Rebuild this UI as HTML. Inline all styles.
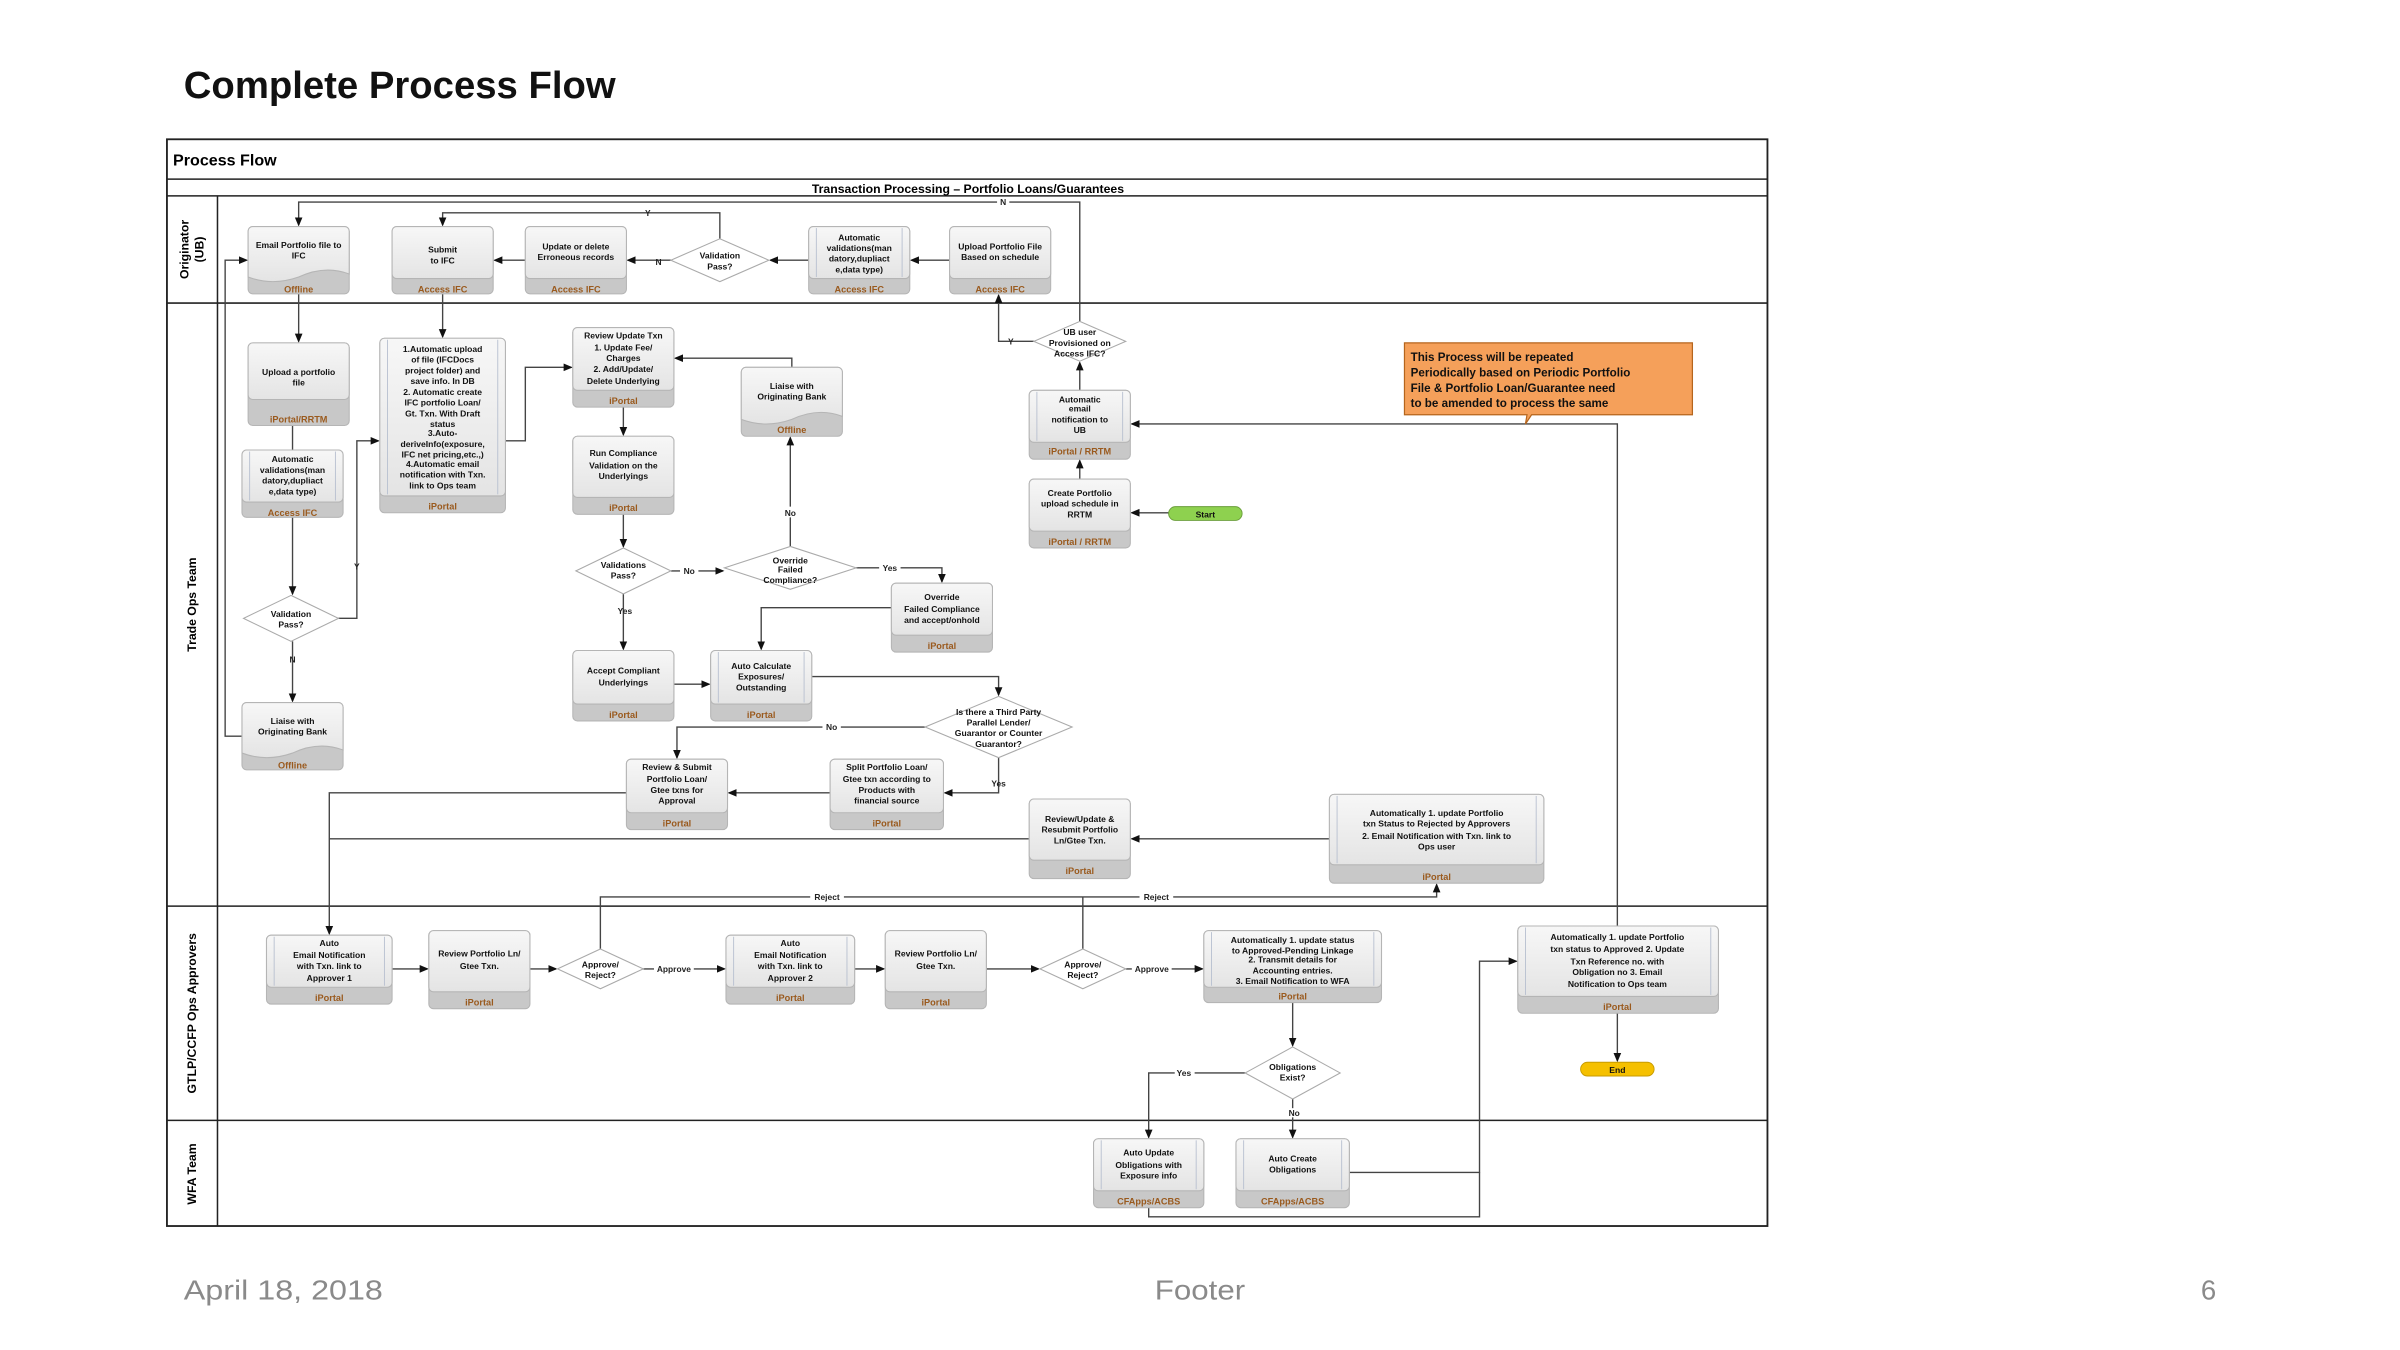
<!DOCTYPE html>
<html><head><meta charset="utf-8"><style>
html,body{margin:0;padding:0;background:#fff;width:2400px;height:1350px;overflow:hidden}
svg{display:block}
text{font-family:"Liberation Sans Narrow","Liberation Sans",sans-serif}
.t{font-size:5.6px;font-weight:bold;fill:#111;text-anchor:middle}
.b{font-size:6px;font-weight:bold;fill:#9a5a1e;text-anchor:middle}
.l{font-size:5.5px;font-weight:bold;fill:#222;text-anchor:middle}
.c{fill:none;stroke:#444;stroke-width:0.9}
.d{fill:#fff;stroke:#aaa;stroke-width:0.7}
</style></head><body>
<svg width="2400" height="1350" viewBox="0 0 1567 882" preserveAspectRatio="none" xmlns="http://www.w3.org/2000/svg">
<defs>
<marker id="a" markerWidth="6" markerHeight="6" refX="5" refY="3" orient="auto" markerUnits="userSpaceOnUse"><path d="M0,0.5 L6,3 L0,5.5z" fill="#111"/></marker>
<linearGradient id="g" x1="0" y1="0" x2="0" y2="1"><stop offset="0" stop-color="#f7f7f7"/><stop offset="1" stop-color="#e4e4e4"/></linearGradient>
</defs>
<text x="120" y="64" textLength="282" lengthAdjust="spacingAndGlyphs" style="font-family:'Liberation Sans',sans-serif;font-size:25px;font-weight:bold;fill:#111">Complete Process Flow</text>

<!-- frame -->
<rect x="109" y="91" width="1045" height="710" fill="#fff" stroke="#222" stroke-width="1.2"/>
<line x1="109" y1="117" x2="1154" y2="117" stroke="#222"/>
<line x1="109" y1="128" x2="1154" y2="128" stroke="#222"/>
<line x1="109" y1="198" x2="1154" y2="198" stroke="#222"/>
<line x1="109" y1="592" x2="1154" y2="592" stroke="#222"/>
<line x1="109" y1="732" x2="1154" y2="732" stroke="#222"/>
<line x1="142" y1="128" x2="142" y2="801" stroke="#222"/>
<text x="113" y="108" style="font-size:10.5px;font-weight:bold;font-family:'Liberation Sans',sans-serif">Process Flow</text>
<text x="632" y="126" style="font-size:8px;font-weight:bold;text-anchor:middle;font-family:'Liberation Sans',sans-serif">Transaction Processing – Portfolio Loans/Guarantees</text>
<g style="font-family:'Liberation Sans',sans-serif;font-size:8px;font-weight:bold;text-anchor:middle">
<text transform="translate(123,163) rotate(-90)">Originator</text>
<text transform="translate(133,163) rotate(-90)">(UB)</text>
<text transform="translate(128,395) rotate(-90)">Trade Ops Team</text>
<text transform="translate(128,662) rotate(-90)">GTLP/CCFP Ops Approvers</text>
<text transform="translate(128,767) rotate(-90)">WFA Team</text>
</g>

<!-- connectors -->
<g class="c">
<polyline points="705,210 705,132 195,132 195,147" marker-end="url(#a)"/>
<polyline points="470,156 470,139 289,139 289,147" marker-end="url(#a)"/>
<polyline points="438,170 410,170" marker-end="url(#a)"/>
<polyline points="343,170 323,170" marker-end="url(#a)"/>
<polyline points="528,170 503,170" marker-end="url(#a)"/>
<polyline points="620,170 595,170" marker-end="url(#a)"/>
<polyline points="675,223 652,223 652,193" marker-end="url(#a)"/>
<polyline points="705,255 705,237" marker-end="url(#a)"/>
<polyline points="705,313 705,301" marker-end="url(#a)"/>
<polyline points="763,335 739,335" marker-end="url(#a)"/>
<polyline points="1056,605 1056,277 739,277" marker-end="url(#a)"/>
<polyline points="195,192 195,223" marker-end="url(#a)"/>
<polyline points="289,192 289,220" marker-end="url(#a)"/>
<polyline points="158,481 147,481 147,170 161,170" marker-end="url(#a)"/>
<polyline points="191,278 191,294"/>
<polyline points="191,338 191,388" marker-end="url(#a)"/>
<polyline points="191,419 191,458" marker-end="url(#a)"/>
<polyline points="221,404 233,404 233,288 247,288" marker-end="url(#a)"/>
<polyline points="330,288 343,288 343,240 373,240" marker-end="url(#a)"/>
<polyline points="517,240 517,234 441,234" marker-end="url(#a)"/>
<polyline points="407,266 407,284" marker-end="url(#a)"/>
<polyline points="407,336 407,357" marker-end="url(#a)"/>
<polyline points="438,373 472,373" marker-end="url(#a)"/>
<polyline points="516,357 516,286" marker-end="url(#a)"/>
<polyline points="559,371 615,371 615,380" marker-end="url(#a)"/>
<polyline points="407,388 407,424" marker-end="url(#a)"/>
<polyline points="582,397 497,397 497,424" marker-end="url(#a)"/>
<polyline points="440,447 463,447" marker-end="url(#a)"/>
<polyline points="530,442 652,442 652,454" marker-end="url(#a)"/>
<polyline points="604,475 442,475 442,495" marker-end="url(#a)"/>
<polyline points="652,495 652,518 617,518" marker-end="url(#a)"/>
<polyline points="542,518 476,518" marker-end="url(#a)"/>
<polyline points="409,518 215,518 215,610" marker-end="url(#a)"/>
<polyline points="672,548 215,548"/>
<polyline points="868,548 739,548" marker-end="url(#a)"/>
<polyline points="392,620 392,586 938,586 938,578" marker-end="url(#a)"/>
<polyline points="707,620 707,586"/>
<polyline points="256,633 279,633" marker-end="url(#a)"/>
<polyline points="346,633 363,633" marker-end="url(#a)"/>
<polyline points="420,633 473,633" marker-end="url(#a)"/>
<polyline points="558,633 577,633" marker-end="url(#a)"/>
<polyline points="644,633 678,633" marker-end="url(#a)"/>
<polyline points="735,633 785,633" marker-end="url(#a)"/>
<polyline points="844,655 844,683" marker-end="url(#a)"/>
<polyline points="813,701 750,701 750,743" marker-end="url(#a)"/>
<polyline points="844,718 844,743" marker-end="url(#a)"/>
<polyline points="881,766 966,766 966,628 990,628" marker-end="url(#a)"/>
<polyline points="750,789 750,795 966,795 966,766"/>
<polyline points="1056,662 1056,693" marker-end="url(#a)"/>
</g>
<!-- connector labels -->
<g class="l">
<rect x="651" y="129" width="8" height="6" fill="#fff"/><text x="655" y="134">N</text>
<text x="423" y="141">Y</text>
<text x="430" y="173">N</text>
<text x="660" y="225">Y</text>
<text x="191" y="433">N</text>
<text x="233" y="372">Y</text>
<rect x="444" y="370" width="12" height="6" fill="#fff"/><text x="450" y="375">No</text>
<rect x="510" y="331" width="12" height="7" fill="#fff"/><text x="516" y="337">No</text>
<rect x="574" y="368" width="14" height="6" fill="#fff"/><text x="581" y="373">Yes</text>
<text x="408" y="401">Yes</text>
<rect x="537" y="472" width="12" height="6" fill="#fff"/><text x="543" y="477">No</text>
<text x="652" y="514">Yes</text>
<rect x="529" y="583" width="22" height="6" fill="#fff"/><text x="540" y="588">Reject</text>
<rect x="744" y="583" width="22" height="6" fill="#fff"/><text x="755" y="588">Reject</text>
<rect x="427" y="630" width="26" height="6" fill="#fff"/><text x="440" y="635">Approve</text>
<rect x="739" y="630" width="26" height="6" fill="#fff"/><text x="752" y="635">Approve</text>
<rect x="767" y="698" width="13" height="6" fill="#fff"/><text x="773" y="703">Yes</text>
<rect x="839" y="724" width="11" height="6" fill="#fff"/><text x="845" y="729">No</text>
</g>

<g stroke="#b5b5b5" stroke-width="0.7">
<rect x="162" y="148" width="66" height="44" rx="3" fill="#c8c8c8"/>
<path d="M162,151 a3,3 0 0 1 3,-3 h60 a3,3 0 0 1 3,3 v28 q-16,-6 -33,2 q-17,6 -33,0 z" fill="url(#g)"/>
<rect x="256" y="148" width="66" height="44" rx="3" fill="#c8c8c8"/><rect x="256" y="148" width="66" height="34" rx="3" fill="url(#g)"/>
<rect x="343" y="148" width="66" height="44" rx="3" fill="#c8c8c8"/><rect x="343" y="148" width="66" height="34" rx="3" fill="url(#g)"/>
<rect x="528" y="148" width="66" height="44" rx="3" fill="#c8c8c8"/><rect x="528" y="148" width="66" height="34" rx="3" fill="url(#g)"/>
<rect x="620" y="148" width="66" height="44" rx="3" fill="#c8c8c8"/><rect x="620" y="148" width="66" height="34" rx="3" fill="url(#g)"/>
<rect x="162" y="224" width="66" height="54" rx="3" fill="#c8c8c8"/><rect x="162" y="224" width="66" height="37" rx="3" fill="url(#g)"/>
<rect x="158" y="294" width="66" height="44" rx="3" fill="#c8c8c8"/><rect x="158" y="294" width="66" height="34" rx="3" fill="url(#g)"/>
<rect x="158" y="459" width="66" height="44" rx="3" fill="#c8c8c8"/>
<path d="M158,462 a3,3 0 0 1 3,-3 h60 a3,3 0 0 1 3,3 v28 q-16,-6 -33,2 q-17,6 -33,0 z" fill="url(#g)"/>
<rect x="248" y="221" width="82" height="114" rx="3" fill="#c8c8c8"/><rect x="248" y="221" width="82" height="103" rx="3" fill="url(#g)"/>
<rect x="374" y="214" width="66" height="52" rx="3" fill="#c8c8c8"/><rect x="374" y="214" width="66" height="41" rx="3" fill="url(#g)"/>
<rect x="484" y="240" width="66" height="45" rx="3" fill="#c8c8c8"/>
<path d="M484,243 a3,3 0 0 1 3,-3 h60 a3,3 0 0 1 3,3 v29 q-16,-6 -33,2 q-17,6 -33,0 z" fill="url(#g)"/>
<rect x="374" y="285" width="66" height="51" rx="3" fill="#c8c8c8"/><rect x="374" y="285" width="66" height="40" rx="3" fill="url(#g)"/>
<rect x="582" y="381" width="66" height="45" rx="3" fill="#c8c8c8"/><rect x="582" y="381" width="66" height="34" rx="3" fill="url(#g)"/>
<rect x="374" y="425" width="66" height="46" rx="3" fill="#c8c8c8"/><rect x="374" y="425" width="66" height="35" rx="3" fill="url(#g)"/>
<rect x="464" y="425" width="66" height="46" rx="3" fill="#c8c8c8"/><rect x="464" y="425" width="66" height="35" rx="3" fill="url(#g)"/>
<rect x="409" y="496" width="66" height="46" rx="3" fill="#c8c8c8"/><rect x="409" y="496" width="66" height="35" rx="3" fill="url(#g)"/>
<rect x="542" y="496" width="74" height="46" rx="3" fill="#c8c8c8"/><rect x="542" y="496" width="74" height="35" rx="3" fill="url(#g)"/>
<rect x="672" y="522" width="66" height="52" rx="3" fill="#c8c8c8"/><rect x="672" y="522" width="66" height="40" rx="3" fill="url(#g)"/>
<rect x="868" y="519" width="140" height="58" rx="3" fill="#c8c8c8"/><rect x="868" y="519" width="140" height="46" rx="3" fill="url(#g)"/>
<rect x="672" y="255" width="66" height="45" rx="3" fill="#c8c8c8"/><rect x="672" y="255" width="66" height="34" rx="3" fill="url(#g)"/>
<rect x="672" y="313" width="66" height="45" rx="3" fill="#c8c8c8"/><rect x="672" y="313" width="66" height="34" rx="3" fill="url(#g)"/>
<rect x="174" y="611" width="82" height="45" rx="3" fill="#c8c8c8"/><rect x="174" y="611" width="82" height="34" rx="3" fill="url(#g)"/>
<rect x="280" y="608" width="66" height="51" rx="3" fill="#c8c8c8"/><rect x="280" y="608" width="66" height="40" rx="3" fill="url(#g)"/>
<rect x="474" y="611" width="84" height="45" rx="3" fill="#c8c8c8"/><rect x="474" y="611" width="84" height="34" rx="3" fill="url(#g)"/>
<rect x="578" y="608" width="66" height="51" rx="3" fill="#c8c8c8"/><rect x="578" y="608" width="66" height="40" rx="3" fill="url(#g)"/>
<rect x="786" y="608" width="116" height="47" rx="3" fill="#c8c8c8"/><rect x="786" y="608" width="116" height="37" rx="3" fill="url(#g)"/>
<rect x="991" y="605" width="131" height="57" rx="3" fill="#c8c8c8"/><rect x="991" y="605" width="131" height="46" rx="3" fill="url(#g)"/>
<rect x="714" y="744" width="72" height="45" rx="3" fill="#c8c8c8"/><rect x="714" y="744" width="72" height="34" rx="3" fill="url(#g)"/>
<rect x="807" y="744" width="74" height="45" rx="3" fill="#c8c8c8"/><rect x="807" y="744" width="74" height="34" rx="3" fill="url(#g)"/>
</g>
<g stroke="#b8c0d0" stroke-width="0.6">
<line x1="533" y1="149" x2="533" y2="181"/><line x1="589" y1="149" x2="589" y2="181"/>
<line x1="163" y1="295" x2="163" y2="327"/><line x1="219" y1="295" x2="219" y2="327"/>
<line x1="253" y1="222" x2="253" y2="323"/><line x1="325" y1="222" x2="325" y2="323"/>
<line x1="469" y1="426" x2="469" y2="459"/><line x1="525" y1="426" x2="525" y2="459"/>
<line x1="873" y1="520" x2="873" y2="564"/><line x1="1003" y1="520" x2="1003" y2="564"/>
<line x1="677" y1="256" x2="677" y2="288"/><line x1="733" y1="256" x2="733" y2="288"/>
<line x1="179" y1="612" x2="179" y2="644"/><line x1="251" y1="612" x2="251" y2="644"/>
<line x1="479" y1="612" x2="479" y2="644"/><line x1="553" y1="612" x2="553" y2="644"/>
<line x1="791" y1="609" x2="791" y2="644"/><line x1="897" y1="609" x2="897" y2="644"/>
<line x1="996" y1="606" x2="996" y2="650"/><line x1="1117" y1="606" x2="1117" y2="650"/>
<line x1="719" y1="745" x2="719" y2="777"/><line x1="781" y1="745" x2="781" y2="777"/>
<line x1="812" y1="745" x2="812" y2="777"/><line x1="876" y1="745" x2="876" y2="777"/>
</g>

<polygon class="d" points="470,156 502,170 470,184 438,170"/>
<polygon class="d" points="705,210 735,223 705,236 675,223"/>
<polygon class="d" points="190,389 221,404 190,419 159,404"/>
<polygon class="d" points="407,358 438,373 407,388 376,373"/>
<polygon class="d" points="516,357 559,371 516,385 473,371"/>
<polygon class="d" points="652,455 700,475 652,495 604,475"/>
<polygon class="d" points="392,620 420,633 392,646 364,633"/>
<polygon class="d" points="707,620 735,633 707,646 679,633"/>
<polygon class="d" points="844,684 875,701 844,718 813,701"/>

<rect x="763" y="331" width="48" height="9" rx="4.5" fill="#8ed14f" stroke="#6a9e3a" stroke-width="0.6"/>
<text x="787" y="338" class="t">Start</text>
<rect x="1032" y="694" width="48" height="9" rx="4.5" fill="#f5c000" stroke="#c79a00" stroke-width="0.6"/>
<text x="1056" y="701" class="t">End</text>
<path d="M917,224 H1105 V271 H1000 L996,277 L997,271 H917 Z" fill="#f5a05a" stroke="#b5651d" stroke-width="0.8"/>
<g style="font-family:'Liberation Sans',sans-serif;font-size:7.6px;font-weight:bold;fill:#111">
<text x="921" y="236">This Process will be repeated</text>
<text x="921" y="246">Periodically based on Periodic Portfolio</text>
<text x="921" y="256">File &amp; Portfolio Loan/Guarantee need</text>
<text x="921" y="266">to be amended to process the same</text>
</g>

<g class="t">
<text x="195" y="162">Email Portfolio file to</text><text x="195" y="169">IFC</text>
<text x="289" y="165">Submit</text><text x="289" y="172">to IFC</text>
<text x="376" y="163">Update or delete</text><text x="376" y="170">Erroneous records</text>
<text x="470" y="169">Validation</text><text x="470" y="176">Pass?</text>
<text x="561" y="157">Automatic</text><text x="561" y="164">validations(man</text><text x="561" y="171">datory,dupliact</text><text x="561" y="178">e,data type)</text>
<text x="653" y="163">Upload Portfolio File</text><text x="653" y="170">Based on schedule</text>
<text x="195" y="245">Upload a portfolio</text><text x="195" y="252">file</text>
<text x="191" y="302">Automatic</text><text x="191" y="309">validations(man</text><text x="191" y="316">datory,dupliact</text><text x="191" y="323">e,data type)</text>
<text x="190" y="403">Validation</text><text x="190" y="410">Pass?</text>
<text x="191" y="473">Liaise with</text><text x="191" y="480">Originating Bank</text>
<text x="289" y="230">1.Automatic upload</text><text x="289" y="237">of file (IFCDocs</text><text x="289" y="244">project folder) and</text><text x="289" y="251">save info. In DB</text><text x="289" y="258">2. Automatic create</text><text x="289" y="265">IFC portfolio Loan/</text><text x="289" y="272">Gt. Txn. With Draft</text><text x="289" y="279">status</text><text x="289" y="285">3.Auto-</text><text x="289" y="292">deriveInfo(exposure,</text><text x="289" y="299">IFC net pricing,etc.,)</text><text x="289" y="305">4.Automatic email</text><text x="289" y="312">notification with Txn.</text><text x="289" y="319">link  to Ops team</text>
<text x="407" y="221">Review Update Txn</text><text x="407" y="229">1. Update Fee/</text><text x="407" y="236">Charges</text><text x="407" y="243">2. Add/Update/</text><text x="407" y="251">Delete Underlying</text>
<text x="517" y="254">Liaise with</text><text x="517" y="261">Originating Bank</text>
<text x="407" y="298">Run Compliance</text><text x="407" y="306">Validation on the</text><text x="407" y="313">Underlyings</text>
<text x="407" y="371">Validations</text><text x="407" y="378">Pass?</text>
<text x="516" y="368">Override</text><text x="516" y="374">Failed</text><text x="516" y="381">Compliance?</text>
<text x="615" y="392">Override</text><text x="615" y="400">Failed Compliance</text><text x="615" y="407">and accept/onhold</text>
<text x="407" y="440">Accept Compliant</text><text x="407" y="448">Underlyings</text>
<text x="497" y="437">Auto Calculate</text><text x="497" y="444">Exposures/</text><text x="497" y="451">Outstanding</text>
<text x="652" y="467">Is there a Third Party</text><text x="652" y="474">Parallel Lender/</text><text x="652" y="481">Guarantor or  Counter</text><text x="652" y="488">Guarantor?</text>
<text x="442" y="503">Review &amp; Submit</text><text x="442" y="511">Portfolio Loan/</text><text x="442" y="518">Gtee txns for</text><text x="442" y="525">Approval</text>
<text x="579" y="503">Split Portfolio Loan/</text><text x="579" y="511">Gtee txn according to</text><text x="579" y="518">Products with</text><text x="579" y="525">financial source</text>
<text x="705" y="537">Review/Update &amp;</text><text x="705" y="544">Resubmit Portfolio</text><text x="705" y="551">Ln/Gtee Txn.</text>
<text x="938" y="533">Automatically 1. update Portfolio</text><text x="938" y="540">txn Status to Rejected by Approvers</text><text x="938" y="548">2. Email Notification with Txn. link  to</text><text x="938" y="555">Ops user</text>
<text x="705" y="219">UB user</text><text x="705" y="226">Provisioned on</text><text x="705" y="233">Access IFC?</text>
<text x="705" y="263">Automatic</text><text x="705" y="269">email</text><text x="705" y="276">notification to</text><text x="705" y="283">UB</text>
<text x="705" y="324">Create Portfolio</text><text x="705" y="331">upload schedule in</text><text x="705" y="338">RRTM</text>
<text x="215" y="618">Auto</text><text x="215" y="626">Email Notification</text><text x="215" y="633">with Txn. link  to</text><text x="215" y="641">Approver 1</text>
<text x="313" y="625">Review Portfolio Ln/</text><text x="313" y="633">Gtee Txn.</text>
<text x="392" y="632">Approve/</text><text x="392" y="639">Reject?</text>
<text x="516" y="618">Auto</text><text x="516" y="626">Email Notification</text><text x="516" y="633">with Txn. link  to</text><text x="516" y="641">Approver 2</text>
<text x="611" y="625">Review Portfolio Ln/</text><text x="611" y="633">Gtee Txn.</text>
<text x="707" y="632">Approve/</text><text x="707" y="639">Reject?</text>
<text x="844" y="616">Automatically 1. update status</text><text x="844" y="623">to Approved-Pending Linkage</text><text x="844" y="629">2. Transmit details for</text><text x="844" y="636">Accounting entries.</text><text x="844" y="643">3. Email Notification to WFA</text>
<text x="844" y="699">Obligations</text><text x="844" y="706">Exist?</text>
<text x="1056" y="614">Automatically 1. update Portfolio</text><text x="1056" y="622">txn status to Approved 2. Update</text><text x="1056" y="630">Txn Reference no. with</text><text x="1056" y="637">Obligation no 3. Email</text><text x="1056" y="645">Notification to Ops team</text>
<text x="750" y="755">Auto Update</text><text x="750" y="763">Obligations with</text><text x="750" y="770">Exposure info</text>
<text x="844" y="759">Auto Create</text><text x="844" y="766">Obligations</text>
</g>
<g class="b">
<text x="195" y="191">Offline</text><text x="289" y="191">Access IFC</text><text x="376" y="191">Access IFC</text><text x="561" y="191">Access IFC</text><text x="653" y="191">Access IFC</text>
<text x="195" y="276">iPortal/RRTM</text><text x="191" y="337">Access IFC</text><text x="191" y="502">Offline</text>
<text x="289" y="333">iPortal</text><text x="407" y="264">iPortal</text><text x="517" y="283">Offline</text><text x="407" y="334">iPortal</text>
<text x="615" y="424">iPortal</text><text x="407" y="469">iPortal</text><text x="497" y="469">iPortal</text>
<text x="442" y="540">iPortal</text><text x="579" y="540">iPortal</text><text x="705" y="571">iPortal</text><text x="938" y="575">iPortal</text>
<text x="705" y="297">iPortal / RRTM</text><text x="705" y="356">iPortal / RRTM</text>
<text x="215" y="654">iPortal</text><text x="313" y="657">iPortal</text><text x="516" y="654">iPortal</text><text x="611" y="657">iPortal</text>
<text x="844" y="653">iPortal</text><text x="1056" y="660">iPortal</text>
<text x="750" y="787">CFApps/ACBS</text><text x="844" y="787">CFApps/ACBS</text>
</g>

<g style="font-family:'Liberation Sans',sans-serif;font-size:18px;fill:#8a8a8a">
<text x="120" y="849" textLength="130" lengthAdjust="spacingAndGlyphs">April 18, 2018</text>
<text x="754" y="849" textLength="59" lengthAdjust="spacingAndGlyphs">Footer</text>
<text x="1447" y="849" text-anchor="end">6</text>
</g>
</svg>
</body></html>
